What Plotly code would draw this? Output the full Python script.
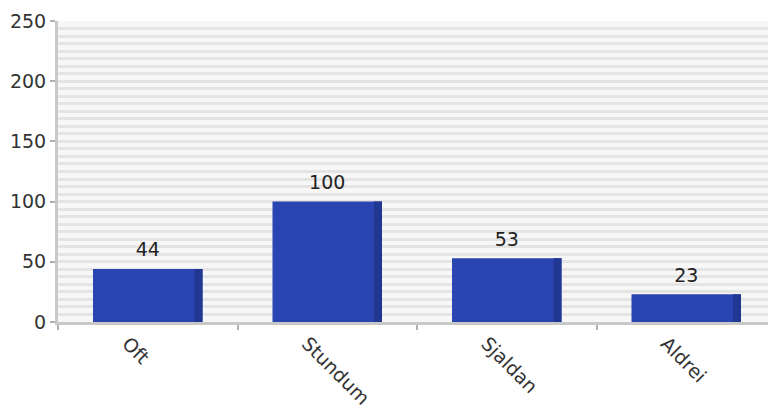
import plotly.graph_objects as go

categories = ["Oft", "Stundum", "Sjaldan", "Aldrei"]
values = [44, 100, 53, 23]
y_ticks = [0, 50, 100, 150, 200, 250]

bar_color = "#2a45b2"
side_color = "#203891"
bar_width = 0.61
side_width = 0.045

fig = go.Figure()
fig.add_trace(
    go.Bar(
        x=categories,
        y=values,
        width=bar_width,
        offset=-bar_width / 2,
        marker=dict(color=bar_color, line=dict(width=0)),
        hoverinfo="x+y",
    )
)
fig.add_trace(
    go.Bar(
        x=categories,
        y=values,
        width=side_width,
        offset=bar_width / 2 - side_width,
        marker=dict(color=side_color, line=dict(width=0)),
        hoverinfo="skip",
    )
)
# value labels, lifted a little above the bar tops
fig.add_trace(
    go.Scatter(
        x=categories,
        y=values,
        mode="markers+text",
        marker=dict(size=11, color="rgba(0,0,0,0)"),
        text=[str(v) for v in values],
        textposition="top center",
        textfont=dict(family="DejaVu Sans", size=19, color="#222222"),
        cliponaxis=False,
        hoverinfo="skip",
    )
)

# the page body has an 8px margin, so the figure is sized to fit the window
fig.update_layout(
    width=768,
    height=402,
    margin=dict(l=50, r=0, t=13, b=88),
    barmode="overlay",
    showlegend=False,
    paper_bgcolor="white",
    plot_bgcolor="#f7f7f7",
    font=dict(family="DejaVu Sans", size=19, color="#333333"),
    xaxis=dict(
        tickangle=45,
        ticklabelshift=-20,
        showline=True,
        linecolor="#c8c8c8",
        linewidth=3,
        ticks="outside",
        tickson="boundaries",
        ticklen=5,
        tickwidth=2,
        tickcolor="#b0b0b0",
        showgrid=False,
        automargin=False,
    ),
    yaxis=dict(
        range=[0, 250],
        tickvals=y_ticks,
        showline=True,
        linecolor="#c8c8c8",
        linewidth=3,
        ticks="outside",
        ticklen=5,
        tickwidth=2,
        tickcolor="#b0b0b0",
        showgrid=True,
        gridcolor="#e4e4e4",
        gridwidth=3,
        zeroline=False,
        automargin=False,
        minor=dict(dtick=6.25, showgrid=True, gridcolor="#e4e4e4", gridwidth=3),
    ),
)

fig.write_html("out.html")
